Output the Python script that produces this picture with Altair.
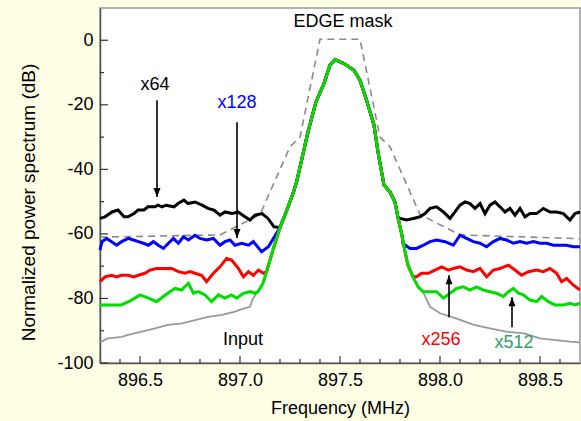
import altair as alt
import pandas as pd

# ---------------- data ----------------
# shared main-signal peak (frequency MHz, dB)
PEAK_X = [897.09, 897.115, 897.14, 897.165, 897.2, 897.235, 897.265, 897.283, 897.31, 897.34,
          897.38, 897.42, 897.45, 897.475, 897.52, 897.57, 897.6, 897.63, 897.67, 897.69,
          897.72, 897.75, 897.775, 897.79, 897.81, 897.825, 897.84, 897.865, 897.89, 897.915]
PEAK_DB = [-77.9, -75.3, -70.2, -65.0, -58.0, -52.5, -47.5, -43.9, -36.6, -28.4,
           -19.1, -13.4, -7.7, -6.0, -7.2, -9.3, -12.4, -18.0, -26.3, -34.6,
           -44.9, -47.0, -50.1, -55.0, -60.4, -65.5, -69.7, -73.3, -76.4, -77.9]

# Input (gray)
IN_LX = [896.3, 896.34, 896.41, 896.44, 896.51, 896.575, 896.64, 896.71, 896.775, 896.84,
         896.91, 896.975, 897.02, 897.05, 897.065]
IN_LY = [-93.6, -92.4, -91.9, -91.3, -90.3, -89.3, -88.2, -87.7, -86.7, -85.7,
         -85.1, -84.1, -83.1, -82.6, -80.0]
IN_RX = [897.95, 898.0, 898.08, 898.17, 898.25, 898.33, 898.42, 898.5, 898.58, 898.65, 898.7]
IN_RY = [-82.6, -84.6, -86.2, -88.2, -89.3, -90.3, -90.8, -92.4, -92.9, -93.4, -93.6]

# x64 (black)
K64_LX = [896.3, 896.325, 896.36, 896.39, 896.42, 896.44, 896.47, 896.49, 896.52, 896.54,
          896.575, 896.59, 896.61, 896.63, 896.67, 896.69, 896.72, 896.74, 896.775, 896.81,
          896.84, 896.87, 896.9, 896.925, 896.96, 896.99, 897.025, 897.05, 897.075, 897.11,
          897.14, 897.17]
K64_LY = [-55.2, -54.7, -53.2, -52.6, -54.7, -54.7, -53.7, -52.6, -52.6, -51.6,
          -51.6, -51.1, -51.6, -51.1, -51.6, -50.6, -49.5, -50.6, -50.1, -51.1,
          -52.1, -52.6, -54.2, -53.2, -53.7, -53.2, -54.7, -55.7, -54.2, -53.7,
          -55.2, -57.8]
K64_RX = [897.8, 897.833, 897.867, 897.9, 897.925, 897.95, 897.983, 898.017, 898.05, 898.075,
          898.1, 898.125, 898.15, 898.175, 898.2, 898.225, 898.25, 898.275, 898.3, 898.325,
          898.35, 898.375, 898.4, 898.425, 898.45, 898.483, 898.517, 898.55, 898.583, 898.617,
          898.65, 898.675, 898.7]
K64_RY = [-55.2, -55.7, -55.2, -54.7, -53.7, -52.1, -51.6, -53.2, -55.2, -53.2,
          -51.1, -50.1, -50.6, -52.1, -50.6, -53.7, -51.1, -50.1, -51.6, -53.2,
          -52.1, -54.2, -52.1, -54.7, -53.7, -53.7, -52.1, -53.2, -53.2, -53.7,
          -55.7, -53.7, -53.2]

# x128 (blue)
K128_LX = [896.3, 896.31, 896.333, 896.358, 896.383, 896.408, 896.442, 896.467, 896.492, 896.517,
           896.542, 896.567, 896.592, 896.617, 896.642, 896.667, 896.692, 896.717, 896.742, 896.775,
           896.8, 896.833, 896.867, 896.9, 896.925, 896.95, 896.975, 897.008, 897.042, 897.067,
           897.108, 897.142, 897.167]
K128_LY = [-65.0, -62.4, -61.4, -62.4, -63.5, -62.4, -61.4, -61.9, -62.4, -62.9,
           -63.5, -62.4, -63.5, -64.5, -62.9, -61.4, -62.9, -60.9, -61.9, -60.4,
           -61.4, -61.9, -61.4, -63.5, -62.4, -61.9, -63.5, -62.9, -63.5, -62.4,
           -65.5, -64.0, -61.4]
K128_RX = [897.815, 897.85, 897.883, 897.917, 897.95, 897.983, 898.025, 898.067, 898.1, 898.133,
           898.167, 898.2, 898.233, 898.267, 898.3, 898.333, 898.367, 898.4, 898.433, 898.467,
           898.5, 898.533, 898.567, 898.6, 898.633, 898.667, 898.7]
K128_RY = [-63.0, -64.5, -64.5, -63.5, -62.4, -61.9, -62.4, -63.5, -60.4, -61.4,
           -62.4, -62.9, -64.0, -62.4, -61.4, -61.9, -62.9, -62.4, -62.9, -62.4,
           -62.9, -62.9, -63.5, -63.5, -63.5, -64.0, -64.0]

# x256 (red)
K256_LX = [896.3, 896.325, 896.358, 896.383, 896.408, 896.442, 896.467, 896.492, 896.525, 896.55,
           896.583, 896.625, 896.658, 896.692, 896.725, 896.75, 896.775, 896.808, 896.833, 896.867,
           896.9, 896.933, 896.958, 896.992, 897.017, 897.042, 897.067, 897.092, 897.117, 897.133]
K256_LY = [-74.8, -73.3, -72.8, -73.3, -72.8, -72.8, -73.3, -72.8, -72.2, -71.2,
           -70.7, -70.7, -70.7, -71.7, -72.2, -71.7, -72.2, -72.8, -74.8, -72.2,
           -70.2, -67.6, -68.1, -70.7, -73.3, -71.7, -72.8, -71.2, -72.2, -71.7]
K256_RX = [897.883, 897.908, 897.942, 897.975, 898.008, 898.042, 898.067, 898.1, 898.133, 898.167,
           898.2, 898.233, 898.267, 898.3, 898.342, 898.375, 898.408, 898.442, 898.483, 898.517,
           898.55, 898.583, 898.608, 898.633, 898.667, 898.7]
K256_RY = [-73.3, -72.2, -72.2, -71.2, -70.2, -71.2, -70.7, -70.2, -71.2, -71.7,
           -70.7, -73.3, -71.2, -70.7, -69.7, -71.2, -72.8, -71.7, -71.2, -71.7,
           -70.7, -72.2, -74.8, -73.8, -75.9, -77.4]

# x512 (green)
K512_LX = [896.3, 896.342, 896.408, 896.458, 896.5, 896.542, 896.583, 896.617, 896.65, 896.675,
           896.708, 896.742, 896.767, 896.792, 896.825, 896.858, 896.892, 896.925, 896.958, 896.983,
           897.017, 897.05, 897.075]
K512_LY = [-82.0, -82.0, -82.0, -80.5, -78.9, -79.9, -81.0, -79.4, -77.9, -76.9,
           -77.4, -75.3, -78.4, -77.9, -78.9, -81.0, -78.9, -79.9, -78.9, -79.9,
           -78.4, -77.9, -78.4]
K512_RX = [897.917, 897.95, 897.983, 898.017, 898.05, 898.083, 898.117, 898.15, 898.183, 898.217,
           898.25, 898.283, 898.317, 898.342, 898.367, 898.392, 898.417, 898.45, 898.483, 898.508,
           898.542, 898.575, 898.617, 898.65, 898.675, 898.7]
K512_RY = [-77.9, -77.9, -77.9, -79.9, -78.4, -76.9, -76.4, -77.4, -76.4, -77.4,
           -77.9, -78.4, -79.4, -77.9, -76.9, -78.4, -78.9, -80.5, -81.0, -79.4,
           -81.0, -82.0, -82.0, -81.5, -82.0, -81.5]

# EDGE mask (dashed)
MASK_X = [896.3, 896.9, 897.1, 897.25, 897.3, 897.4, 897.6, 897.7, 897.75, 897.9, 898.1, 898.7]
MASK_Y = [-61.0, -60.3, -54.0, -33.0, -30.0, 0.3, 0.3, -30.0, -33.0, -54.0, -60.3, -61.5]

# annotations
LABEL_TEXT = ["x64", "x128", "EDGE mask", "Input", "x256", "x512"]
LABEL_X = [896.575, 896.985, 897.515, 897.015, 898.005, 898.37]
LABEL_Y = [-13.9, -19.5, 5.6, -92.9, -92.9, -93.8]
LABEL_COLOR = ["#000000", "#0000ff", "#000000", "#000000", "#ff0000", "#33a066"]

ARROW_X = [896.585, 896.985, 898.045, 898.36]
ARROW_FROM = [-18.6, -25.4, -85.8, -88.9]
ARROW_TO = [-48.6, -61.3, -72.8, -79.6]

X_MAJOR = [896.5, 897.0, 897.5, 898.0, 898.5]
X_MINOR = [896.4, 896.6, 896.7, 896.8, 896.9, 897.1, 897.2, 897.3, 897.4, 897.6,
           897.7, 897.8, 897.9, 898.1, 898.2, 898.3, 898.4, 898.6]
Y_MAJOR = [0, -20, -40, -60, -80, -100]
Y_MINOR = [-10, -30, -50, -70, -90]

W, H = 480, 355
FONT = "Liberation Sans"


def build(lx, ly, rx, ry):
    xs, ys = list(lx), list(ly)
    for x, y in zip(PEAK_X, PEAK_DB):
        if lx[-1] < x < rx[0]:
            xs.append(x)
            ys.append(y)
    xs += list(rx)
    ys += list(ry)
    return pd.DataFrame({"f": xs, "p": ys, "i": range(len(xs))})


xenc = alt.X("f:Q", scale=alt.Scale(domain=[896.3, 898.7], nice=False, zero=False),
             axis=alt.Axis(values=X_MAJOR, format=".1f", title="Frequency (MHz)",
                           titlePadding=10, labelPadding=8))
yenc = alt.Y("p:Q", scale=alt.Scale(domain=[-100, 10], nice=False, zero=False),
             axis=alt.Axis(values=Y_MAJOR, labelExpr="datum.value + ''",
                           title="Normalized power spectrum (dB)", titleFontSize=19,
                           titleX=-72, titleY=194, titleBaseline="middle",
                           labelPadding=7))

mask = alt.Chart(pd.DataFrame({"f": MASK_X, "p": MASK_Y, "i": range(len(MASK_X))})).mark_line(
    color="#8a8a8a", strokeWidth=1.6, strokeDash=[7, 5]).encode(x=xenc, y=yenc, order="i:Q")


def line(df, color, width):
    return alt.Chart(df).mark_line(color=color, strokeWidth=width).encode(
        x=xenc, y=yenc, order="i:Q")


inp = line(build(IN_LX, IN_LY, IN_RX, IN_RY), "#9a9a9a", 1.8)
k64 = line(build(K64_LX, K64_LY, K64_RX, K64_RY), "#000000", 3)
k128 = line(build(K128_LX, K128_LY, K128_RX, K128_RY), "#0000ff", 3)
k256 = line(build(K256_LX, K256_LY, K256_RX, K256_RY), "#ff0000", 3)
k512 = line(build(K512_LX, K512_LY, K512_RX, K512_RY), "#00dd00", 3)

xt_major = alt.Chart(pd.DataFrame({"f": X_MAJOR})).mark_rule(color="#333", strokeWidth=1.2).encode(
    x=xenc, y=alt.value(H), y2=alt.value(H - 7))
xt_minor = alt.Chart(pd.DataFrame({"f": X_MINOR})).mark_rule(color="#333", strokeWidth=1.2).encode(
    x=xenc, y=alt.value(H), y2=alt.value(H - 4))
yt_major = alt.Chart(pd.DataFrame({"p": Y_MAJOR})).mark_rule(color="#333", strokeWidth=1.2).encode(
    y=yenc, x=alt.value(0), x2=alt.value(8))
yt_minor = alt.Chart(pd.DataFrame({"p": Y_MINOR})).mark_rule(color="#333", strokeWidth=1.2).encode(
    y=yenc, x=alt.value(0), x2=alt.value(4))

arr_df = pd.DataFrame({"f": ARROW_X, "p": ARROW_FROM, "p2": ARROW_TO})
arrows = alt.Chart(arr_df).mark_rule(color="black", strokeWidth=1.6).encode(
    x=xenc, y=yenc, y2="p2:Q")
tips_down = alt.Chart(pd.DataFrame({"f": ARROW_X[:2], "p": ARROW_TO[:2]})).mark_point(
    shape="M-0.7,-1.8L0.7,-1.8L0,0Z", size=100, filled=True, color="black", opacity=1
).encode(x=xenc, y=yenc)
tips_up = alt.Chart(pd.DataFrame({"f": ARROW_X[2:], "p": ARROW_TO[2:]})).mark_point(
    shape="M-0.7,1.8L0.7,1.8L0,0Z", size=100, filled=True, color="black", opacity=1
).encode(x=xenc, y=yenc)

labels = alt.Chart(pd.DataFrame({"f": LABEL_X, "p": LABEL_Y, "t": LABEL_TEXT, "c": LABEL_COLOR})).mark_text(
    font=FONT, fontSize=18, align="center", baseline="middle").encode(
    x=xenc, y=yenc, text="t:N", color=alt.Color("c:N", scale=None))

chart = alt.layer(
    mask, inp, k64, k128, k256, k512,
    xt_major, xt_minor, yt_major, yt_minor,
    arrows, tips_down, tips_up, labels
).properties(
    width=W, height=H,
    padding={"left": 100, "top": 8, "right": 1, "bottom": 58},
    autosize=alt.AutoSizeParams(type="none"),
    background="#ffffe6",
).configure_view(
    fill="white", stroke="#999999", strokeWidth=1.5
).configure_axis(
    grid=False, ticks=False, domainColor="#555555", domainWidth=1.5,
    labelFont=FONT, labelFontSize=18, labelColor="black", labelOverlap=False,
    titleFont=FONT, titleFontSize=18, titleFontWeight="normal", titleColor="black",
)

chart.save("out.html", embed_options={"renderer": "svg", "actions": False})
